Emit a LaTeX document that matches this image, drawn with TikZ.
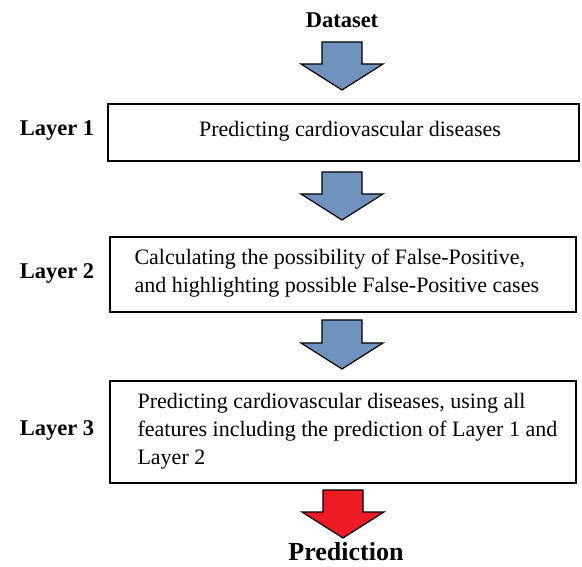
\documentclass[tikz,border=0pt]{standalone}
\usepackage{fontspec}
\setmainfont{Liberation Serif}
\definecolor{arrowblue}{RGB}{112,146,190}
\definecolor{arrowred}{RGB}{237,28,36}
\begin{document}
\begin{tikzpicture}[x=1pt,y=-1pt,
  layerbox/.style={draw=black, line width=1.6pt, inner sep=0pt},
  bigarrow/.style={draw=black, line width=1.2pt, line join=miter},
  lbl/.style={font=\fontsize{22.5}{27}\selectfont\bfseries},
  body/.style={font=\fontsize{22}{28}\selectfont, align=left, anchor=west}]
\useasboundingbox (0,0) rectangle (582,567);
% boxes
\node[layerbox, minimum width=471pt, minimum height=57pt, anchor=north west] (b1) at (107,103) {};
\node[layerbox, minimum width=466pt, minimum height=75pt, anchor=north west] (b2) at (109,236) {};
\node[layerbox, minimum width=466pt, minimum height=102pt, anchor=north west] (b3) at (109,380) {};
\node[font=\fontsize{22}{28}\selectfont] (t1) at (350,131) {Predicting cardiovascular diseases};
\node[body] (t2) at (131,273) {Calculating the possibility of False-Positive,\\and highlighting possible False-Positive cases};
\node[body] (t3) at (134,431) {Predicting cardiovascular diseases, using all\\features including the prediction of Layer 1 and\\Layer 2};
% labels
\node[lbl] (l1) at (57,131) {Layer 1};
\node[lbl] (l2) at (57,273) {Layer 2};
\node[lbl] (l3) at (57,430) {Layer 3};
\node[lbl] (ds) at (342,20) {Dataset};
\node[font=\fontsize{26}{30}\selectfont\bfseries] (pr) at (346,552) {Prediction};
% arrows
\newcommand{\blockarrow}[4]{% x center, top, shoulder, tip
  \filldraw[bigarrow, fill=#4] (#1-20,#2) -- (#1+20,#2) -- (#1+20,#3) -- (#1+41,#3) -- (#1,#3+26) -- (#1-41,#3) -- (#1-20,#3) -- cycle;}
\blockarrow{342}{42}{64}{arrowblue}
\blockarrow{342}{172}{194}{arrowblue}
\blockarrow{342}{320}{343}{arrowblue}
\blockarrow{343}{490}{512}{arrowred}
\end{tikzpicture}
\end{document}
